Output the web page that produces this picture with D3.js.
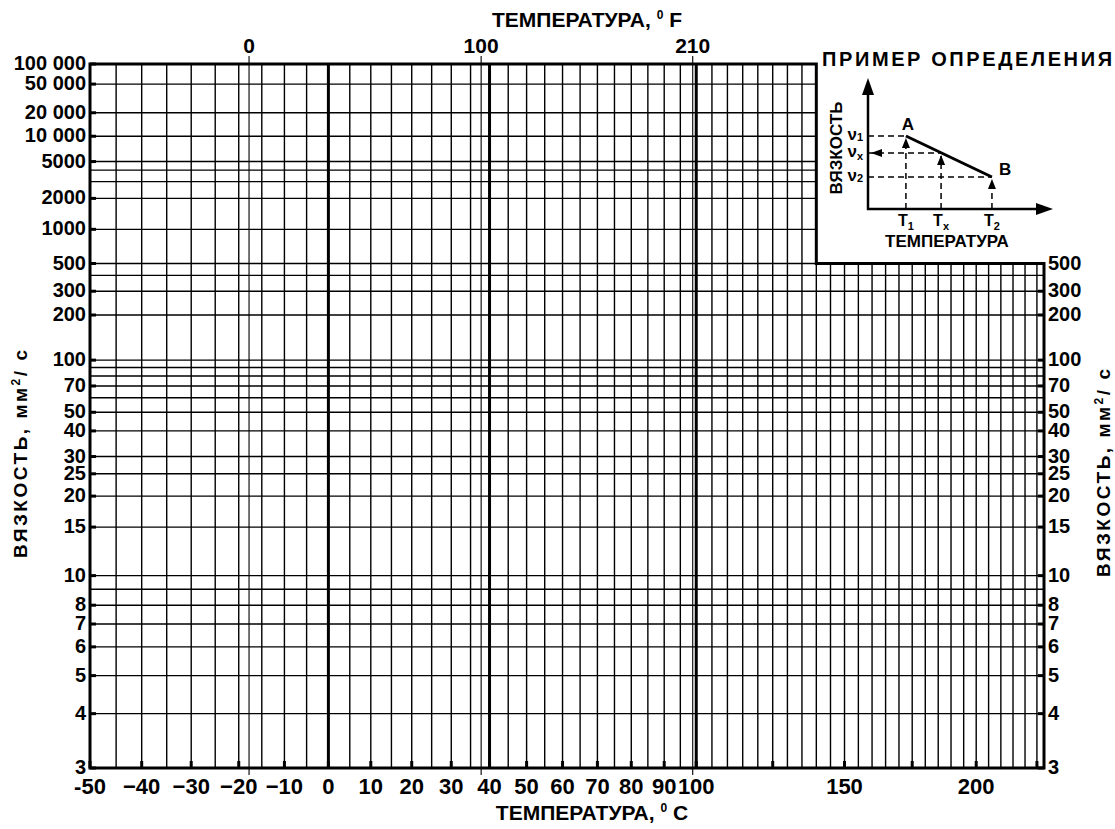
<!DOCTYPE html>
<html>
<head>
<meta charset="utf-8">
<script src="https://cdn.jsdelivr.net/npm/d3@7"></script>
<style>
	body { margin: 0; background: #fff; }
	text { font-family: "Liberation Sans", Arial, sans-serif; font-weight: bold; fill: #000; }
</style>
</head>
<body>
<script>
const w = 1115;
const h = 829;

// temperature, deg C
const tMin = -50;
const tMax = 228;
const tUpperMax = 140; // upper part of grid (viscosity > 500) stops here
const gridTemps = d3.range(-45, 230, 5);
const heavyTemps = [0, 40, 100];
const tickTempsC = [-50, -40, -30, -20, -10, 0, 10, 20, 30, 40, 50, 60, 70, 80, 90, 100, 125, 150, 175, 200, 225];
const labelTempsC = [-50, -40, -30, -20, -10, 0, 10, 20, 30, 40, 50, 60, 70, 80, 90, 100, 150, 200];
const labelTextC = ["-50", "−40", "−30", "−20", "−10", "0", "10", "20", "30", "40", "50", "60", "70", "80", "90", "100", "150", "200"];
const labelTempsF = [0, 100, 210];

// viscosity, mm2/s
const vMin = 3;
const vMax = 100000;
const gridVisc = [100000, 50000, 20000, 10000, 5000, 4000, 3000, 2000, 1000, 500, 400, 300, 200,
	100, 90, 80, 70, 60, 50, 40, 30, 25, 20, 15, 10, 9, 8, 7, 6, 5, 4, 3];
const leftLabels = [100000, 50000, 20000, 10000, 5000, 2000, 1000, 500, 300, 200, 100, 70, 50, 40, 30, 25, 20, 15, 10, 8, 7, 6, 5, 4, 3];
const leftText = ["100 000", "50 000", "20 000", "10 000", "5000", "2000", "1000", "500", "300", "200", "100",
	"70", "50", "40", "30", "25", "20", "15", "10", "8", "7", "6", "5", "4", "3"];
const rightLabels = [500, 300, 200, 100, 70, 50, 40, 30, 25, 20, 15, 10, 8, 7, 6, 5, 4, 3];

// schematic example (inset), arbitrary units
const exT = [2.05, 3.95, 6.7];
const exV = [5.66, 4.34, 2.48];
const exTNames = ["1", "x", "2"];

const f2c = (f) => (f - 32) * 5 / 9;
const loglog = (v) => Math.log10(Math.log10(v + 0.7));

// ASTM style scales
const xLog = d3.scaleLinear()
	.domain([Math.log10(tMin + 273.15), Math.log10(tMax + 273.15)])
	.range([90, 1044]);
const x = (t) => xLog(Math.log10(t + 273.15));

const yLL = d3.scaleLinear()
	.domain([loglog(vMin), loglog(vMax)])
	.range([768, 64]);
const y = (v) => yLL(loglog(v));

const svg = d3.select("body")
	.append("svg")
	.attr("width", w)
	.attr("height", h);

svg.append("rect").attr("width", w).attr("height", h).attr("fill", "#fff");

const grid = svg.append("g").attr("stroke", "#000").attr("fill", "none");

// vertical grid
grid.selectAll(".vline")
	.data(gridTemps)
	.enter()
	.append("line")
	.attr("x1", (d) => x(d))
	.attr("x2", (d) => x(d))
	.attr("y1", (d) => (d <= tUpperMax ? y(vMax) : y(500)))
	.attr("y2", y(vMin))
	.attr("stroke-width", (d) => (heavyTemps.includes(d) ? 3 : 1.4));

// horizontal grid
grid.selectAll(".hline")
	.data(gridVisc)
	.enter()
	.append("line")
	.attr("x1", x(tMin))
	.attr("x2", (d) => (d > 500 ? x(tUpperMax) : x(tMax)))
	.attr("y1", (d) => y(d))
	.attr("y2", (d) => y(d))
	.attr("stroke-width", 1.4);

// Fahrenheit reference lines
grid.selectAll(".fline")
	.data(labelTempsF)
	.enter()
	.append("line")
	.attr("x1", (d) => x(f2c(d)))
	.attr("x2", (d) => x(f2c(d)))
	.attr("y1", y(vMax) - 8)
	.attr("y2", y(vMin) + 7)
	.attr("stroke-width", 1.1);

// inner ticks
grid.selectAll(".btick")
	.data(tickTempsC)
	.enter()
	.append("line")
	.attr("x1", (d) => x(d))
	.attr("x2", (d) => x(d))
	.attr("y1", y(vMin))
	.attr("y2", y(vMin) - 7)
	.attr("stroke-width", 3);

grid.selectAll(".ltick")
	.data(leftLabels)
	.enter()
	.append("line")
	.attr("x1", x(tMin))
	.attr("x2", x(tMin) + 6)
	.attr("y1", (d) => y(d))
	.attr("y2", (d) => y(d))
	.attr("stroke-width", 3);

grid.selectAll(".rtick")
	.data(rightLabels)
	.enter()
	.append("line")
	.attr("x1", x(tMax))
	.attr("x2", x(tMax) - 6)
	.attr("y1", (d) => y(d))
	.attr("y2", (d) => y(d))
	.attr("stroke-width", 3);

// outline
grid.append("path")
	.attr("d", `M${x(tMin)},${y(vMax)}H${x(tUpperMax)}V${y(500)}H${x(tMax)}V${y(vMin)}H${x(tMin)}Z`)
	.attr("stroke-width", 3)
	.attr("stroke-linejoin", "miter");

// left labels
svg.append("g")
	.selectAll("text")
	.data(leftLabels)
	.enter()
	.append("text")
	.attr("x", 86)
	.attr("y", (d) => y(d) + 6)
	.attr("text-anchor", "end")
	.attr("font-size", 20)
	.text((d, i) => leftText[i]);

// right labels
svg.append("g")
	.selectAll("text")
	.data(rightLabels)
	.enter()
	.append("text")
	.attr("x", 1048)
	.attr("y", (d) => y(d) + 6)
	.attr("font-size", 20)
	.text((d) => d);

// bottom labels
svg.append("g")
	.selectAll("text")
	.data(labelTempsC)
	.enter()
	.append("text")
	.attr("x", (d) => x(d))
	.attr("y", 794)
	.attr("text-anchor", "middle")
	.attr("font-size", 22)
	.text((d, i) => labelTextC[i]);

// top labels (F)
svg.append("g")
	.selectAll("text")
	.data(labelTempsF)
	.enter()
	.append("text")
	.attr("x", (d) => x(f2c(d)))
	.attr("y", 53)
	.attr("text-anchor", "middle")
	.attr("font-size", 21)
	.text((d) => d);

// axis titles
const tempTitle = (cx, cy, unit) => {
	const t = svg.append("text")
		.attr("x", cx)
		.attr("y", cy)
		.attr("text-anchor", "middle")
		.attr("font-size", 21);
	t.append("tspan").text("ТЕМПЕРАТУРА, ");
	t.append("tspan").attr("font-size", 12).attr("dy", -8).text("0");
	t.append("tspan").attr("dy", 8).text(" " + unit);
};
tempTitle(587, 27, "F");
tempTitle(592, 820, "C");

const viscTitle = (bx, cy) => {
	const t = svg.append("text")
		.attr("transform", `translate(${bx},${cy}) rotate(-90)`)
		.attr("text-anchor", "middle")
		.attr("font-size", 19)
		.attr("textLength", 208)
		.attr("lengthAdjust", "spacing");
	t.append("tspan").text("ВЯЗКОСТЬ, мм");
	t.append("tspan").attr("font-size", 12).attr("dy", -7).text("2");
	t.append("tspan").attr("dy", 7).text("/ с");
};
viscTitle(27, 454);
viscTitle(1110, 473);

// example inset
const ix = d3.scaleLinear().domain([0, 10]).range([868, 1053]);
const iy = d3.scaleLinear().domain([0, 10]).range([209, 80]);
const inset = svg.append("g");

svg.append("text")
	.attr("x", 822)
	.attr("y", 66)
	.attr("font-size", 20)
	.attr("textLength", 290)
	.attr("lengthAdjust", "spacing")
	.text("ПРИМЕР ОПРЕДЕЛЕНИЯ");

const arrow = (tx, ty, dir, len, half) => {
	// dir: "up", "right", "left"
	let p;
	if (dir === "up") p = [[tx, ty], [tx - half, ty + len], [tx + half, ty + len]];
	else if (dir === "right") p = [[tx, ty], [tx - len, ty - half], [tx - len, ty + half]];
	else p = [[tx, ty], [tx + len, ty - half], [tx + len, ty + half]];
	inset.append("path").attr("d", d3.line()(p) + "Z").attr("fill", "#000");
};

// dashed guides
exT.forEach((t, i) => {
	inset.append("line")
		.attr("x1", ix(t)).attr("x2", ix(t))
		.attr("y1", iy(0)).attr("y2", iy(exV[i]) + 3)
		.attr("stroke", "#000").attr("stroke-width", 1.5).attr("stroke-dasharray", "6,4");
	inset.append("line")
		.attr("x1", ix(0)).attr("x2", ix(t))
		.attr("y1", iy(exV[i])).attr("y2", iy(exV[i]))
		.attr("stroke", "#000").attr("stroke-width", 1.5).attr("stroke-dasharray", "6,4");
	arrow(ix(t), iy(exV[i]) + 2, "up", 10, 4);
});
arrow(ix(0) + 3, iy(exV[1]), "left", 11, 4);

// axes
inset.append("line")
	.attr("x1", ix(0)).attr("x2", ix(0))
	.attr("y1", iy(0) + 1).attr("y2", iy(10) + 12)
	.attr("stroke", "#000").attr("stroke-width", 2.5);
inset.append("line")
	.attr("x1", ix(0) - 1).attr("x2", ix(10) - 12)
	.attr("y1", iy(0)).attr("y2", iy(0))
	.attr("stroke", "#000").attr("stroke-width", 2.5);
arrow(ix(0), iy(10) - 2, "up", 17, 6);
arrow(ix(10), iy(0), "right", 17, 6);

// A-B line
inset.append("line")
	.attr("x1", ix(exT[0])).attr("y1", iy(exV[0]))
	.attr("x2", ix(exT[2])).attr("y2", iy(exV[2]))
	.attr("stroke", "#000").attr("stroke-width", 3);

inset.append("text").attr("x", ix(exT[0]) + 2).attr("y", iy(exV[0]) - 6)
	.attr("text-anchor", "middle").attr("font-size", 17).text("A");
inset.append("text").attr("x", ix(exT[2]) + 7).attr("y", iy(exV[2]) - 2)
	.attr("font-size", 17).text("B");

// inset tick labels
exV.forEach((v, i) => {
	const t = inset.append("text")
		.attr("x", ix(0) - 5)
		.attr("y", iy(v) + 4)
		.attr("text-anchor", "end")
		.attr("font-size", 17);
	t.append("tspan").text("ν");
	t.append("tspan").attr("font-size", 11).attr("dy", i === 1 ? 3 : 1).text(exTNames[i]);
});
exT.forEach((tv, i) => {
	const t = inset.append("text")
		.attr("x", ix(tv))
		.attr("y", iy(0) + 17)
		.attr("text-anchor", "middle")
		.attr("font-size", 16);
	t.append("tspan").text("T");
	t.append("tspan").attr("font-size", 11).attr("dy", 4).text(exTNames[i]);
});
inset.append("text")
	.attr("x", 947).attr("y", 247)
	.attr("text-anchor", "middle").attr("font-size", 17)
	.text("ТЕМПЕРАТУРА");
inset.append("text")
	.attr("transform", `translate(842,148) rotate(-90)`)
	.attr("text-anchor", "middle").attr("font-size", 17)
	.text("ВЯЗКОСТЬ");
</script>
</body>
</html>
